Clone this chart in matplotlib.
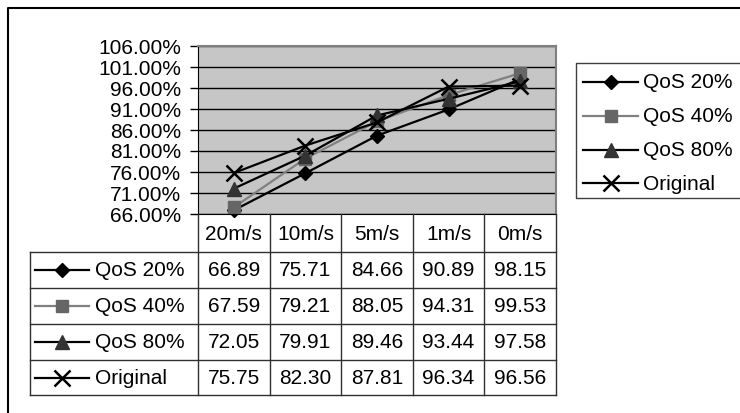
import matplotlib
matplotlib.use("Agg")
from matplotlib import pyplot as plt
from matplotlib.ticker import FuncFormatter

plt.rcParams['font.family'] = ['Liberation Sans', 'DejaVu Sans']

# Data
speeds = ['20m/s', '10m/s', '5m/s', '1m/s', '0m/s']
series_names = ['QoS 20%', 'QoS 40%', 'QoS 80%', 'Original']
qos20 = [66.89, 75.71, 84.66, 90.89, 98.15]
qos40 = [67.59, 79.21, 88.05, 94.31, 99.53]
qos80 = [72.05, 79.91, 89.46, 93.44, 97.58]
original = [75.75, 82.30, 87.81, 96.34, 96.56]
yticks = [66, 71, 76, 81, 86, 91, 96, 101, 106]

series_values = [qos20, qos40, qos80, original]
styles = [
    dict(color='black', marker='D', markersize=7.5, mfc='black', mec='black'),
    dict(color='#808080', marker='s', markersize=8.5, mfc='#666666', mec='#666666'),
    dict(color='black', marker='^', markersize=10, mfc='#333333', mec='#333333'),
    dict(color='black', marker='x', markersize=11, mew=1.8),
]

W, H = 740, 413
fig = plt.figure(figsize=(W / 100, H / 100), dpi=100)

# pixel layout
px_left, px_right, px_top, px_bottom = 198, 556, 46, 214
fs = 15

ax = fig.add_axes([px_left / W, 1 - px_bottom / H,
                   (px_right - px_left) / W, (px_bottom - px_top) / H])
ax.set_facecolor('#c6c6c6')
xs = list(range(len(speeds)))
for vals, st in zip(series_values, styles):
    ax.plot(xs, [v / 100 for v in vals], lw=1.6, clip_on=False, **st)

ax.set_xlim(-0.5, len(speeds) - 0.5)
ax.set_ylim(yticks[0] / 100, yticks[-1] / 100)
ax.set_yticks([t / 100 for t in yticks])
ax.yaxis.set_major_formatter(FuncFormatter(lambda v, p: '%.2f%%' % (v * 100)))
ax.set_xticks([])
ax.tick_params(axis='y', length=6, width=1, pad=6, labelsize=fs, direction='out')
ax.grid(axis='y', color='black', lw=1)
ax.set_axisbelow(True)
for s in ['top', 'right']:
    ax.spines[s].set_color('#808080')
    ax.spines[s].set_linewidth(1.5)
ax.spines['left'].set_color('black')
ax.spines['bottom'].set_color('black')

# overlay in pixel coordinates for the data table, legend and frame
ov2 = fig.add_axes([0, 0, 1, 1], zorder=5)
ov2.set_xlim(0, W)
ov2.set_ylim(H, 0)
ov2.axis('off')

# outer frame (left and top edges)
ov2.plot([8, 8, W + 5], [H + 5, 8, 8], color='black', lw=1.5)

# data table
col_w = (px_right - px_left) / len(speeds)
row_y = [214, 252, 288, 324, 360, 395]
tab_left = 30
lc = '#303030'
for i in range(len(speeds) + 1):
    x = px_left + i * col_w
    ov2.plot([x, x], [row_y[0], row_y[-1]], color=lc, lw=1)
ov2.plot([tab_left, tab_left], [row_y[1], row_y[-1]], color=lc, lw=1)
for y in row_y[1:]:
    ov2.plot([tab_left, px_right], [y, y], color=lc, lw=1)

for i, sp in enumerate(speeds):
    cx = px_left + (i + 0.5) * col_w
    ov2.text(cx, (row_y[0] + row_y[1]) / 2 + 1, sp, ha='center', va='center', fontsize=fs)

for r, (name, vals, st) in enumerate(zip(series_names, series_values, styles)):
    cy = (row_y[r + 1] + row_y[r + 2]) / 2
    ov2.plot([35, 89], [cy, cy], lw=1.6, color=st['color'])
    mk = dict(st)
    mk.pop('color')
    ov2.plot([62], [cy], ls='none', color=st['color'], **mk)
    ov2.text(95, cy + 1, name, ha='left', va='center', fontsize=fs)
    for i, v in enumerate(vals):
        cx = px_left + (i + 0.5) * col_w
        ov2.text(cx, cy + 1, '%.2f' % v, ha='center', va='center', fontsize=fs)

# legend box
ov2.plot([W + 5, 576, 576, W + 5], [63, 63, 198, 198], color='#404040', lw=1)
leg_y = [82, 116, 150, 183]
for name, st, ly in zip(series_names, styles, leg_y):
    ov2.plot([583, 638], [ly, ly], lw=1.6, color=st['color'])
    mk = dict(st)
    mk.pop('color')
    ov2.plot([611], [ly], ls='none', color=st['color'], **mk)
    ov2.text(643, ly + 1, name, ha='left', va='center', fontsize=fs)

fig.savefig('out.png', dpi=100)
